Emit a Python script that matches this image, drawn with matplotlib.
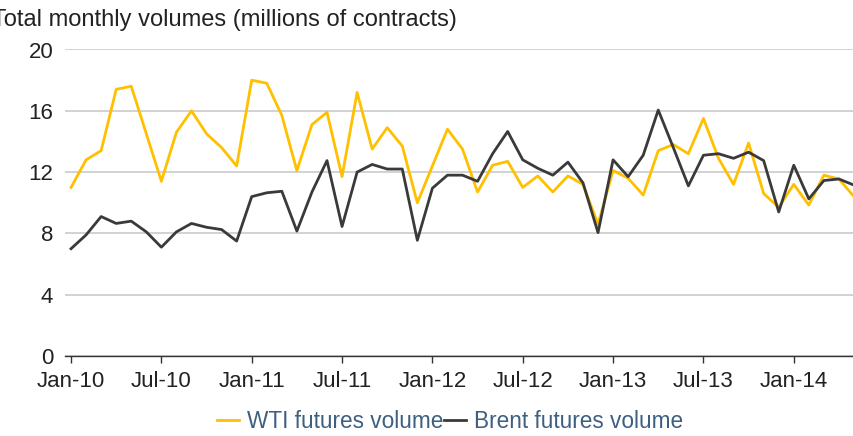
import matplotlib
matplotlib.use("Agg")
import matplotlib.pyplot as plt
import numpy as np

plt.rcParams['font.family'] = ['Liberation Sans', 'DejaVu Sans']

# monthly, Jan-10 .. May-14
months = np.arange(53)
wti = [11.0, 12.8, 13.4, 17.4, 17.6, 14.5, 11.4, 14.6, 16.0, 14.5, 13.6, 12.4,
       18.0, 17.8, 15.7, 12.1, 15.1, 15.9, 11.7, 17.2, 13.5, 14.9, 13.7, 10.0,
       12.4, 14.8, 13.5, 10.7, 12.45, 12.7, 11.0, 11.75, 10.7, 11.75, 11.2, 8.6,
       12.1, 11.6, 10.5, 13.4, 13.8, 13.2, 15.5, 12.9, 11.2, 13.9, 10.6, 9.7,
       11.2, 9.85, 11.8, 11.55, 10.4]
brent = [7.0, 7.9, 9.1, 8.65, 8.8, 8.1, 7.1, 8.1, 8.65, 8.4, 8.25, 7.5,
         10.4, 10.65, 10.75, 8.15, 10.7, 12.75, 8.45, 12.0, 12.5, 12.2, 12.2, 7.55,
         10.95, 11.8, 11.8, 11.4, 13.2, 14.65, 12.8, 12.25, 11.8, 12.65, 11.3, 8.05,
         12.8, 11.7, 13.1, 16.05, 13.6, 11.1, 13.1, 13.2, 12.9, 13.3, 12.75, 9.4,
         12.45, 10.25, 11.45, 11.55, 11.15]
tick_pos = [0, 6, 12, 18, 24, 30, 36, 42, 48]
tick_labels = ['Jan-10', 'Jul-10', 'Jan-11', 'Jul-11', 'Jan-12', 'Jul-12',
               'Jan-13', 'Jul-13', 'Jan-14']
y_ticks = [0, 4, 8, 12, 16, 20]

fig = plt.figure(figsize=(8.54, 4.36), dpi=100)
ax = fig.add_axes([65/854, 80/436, 789/854, 306.5/436])

ax.plot(months, wti, color='#FFC000', lw=2.0, label='WTI futures volume', clip_on=False, zorder=3)
ax.plot(months, brent, color='#3a3a3a', lw=2.0, label='Brent futures volume', clip_on=False, zorder=4)

ax.set_xlim(-0.4, 52)
ax.set_ylim(0, 20)
ax.set_yticks(y_ticks)
ax.set_xticks(tick_pos)
ax.set_xticklabels(tick_labels)
ax.grid(axis='y', color='#cfcfcf', lw=1.3)
ax.set_axisbelow(True)
for s in ['top', 'right', 'left']:
    ax.spines[s].set_visible(False)
ax.spines['bottom'].set_color('#333333')
ax.spines['bottom'].set_linewidth(1.0)
ax.spines['bottom'].set_zorder(5)
ax.tick_params(axis='y', length=0, pad=8.5, labelsize=16, labelcolor='#222222')
ax.tick_params(axis='x', length=5, width=1, color='#333333', pad=6,
               labelsize=16, labelcolor='#222222')

fig.text(-0.009, 0.940, 'Total monthly volumes (millions of contracts)',
         fontsize=17, color='#222222', va='baseline', ha='left')

leg = fig.legend(loc='center', bbox_to_anchor=(450/854, 1 - 421/436), ncol=2,
                 frameon=False, fontsize=16.3, handlelength=1.0, handletextpad=0.35,
                 columnspacing=0.0, labelcolor='#3e5f80', borderaxespad=0)

fig.savefig('out.png', dpi=100)
